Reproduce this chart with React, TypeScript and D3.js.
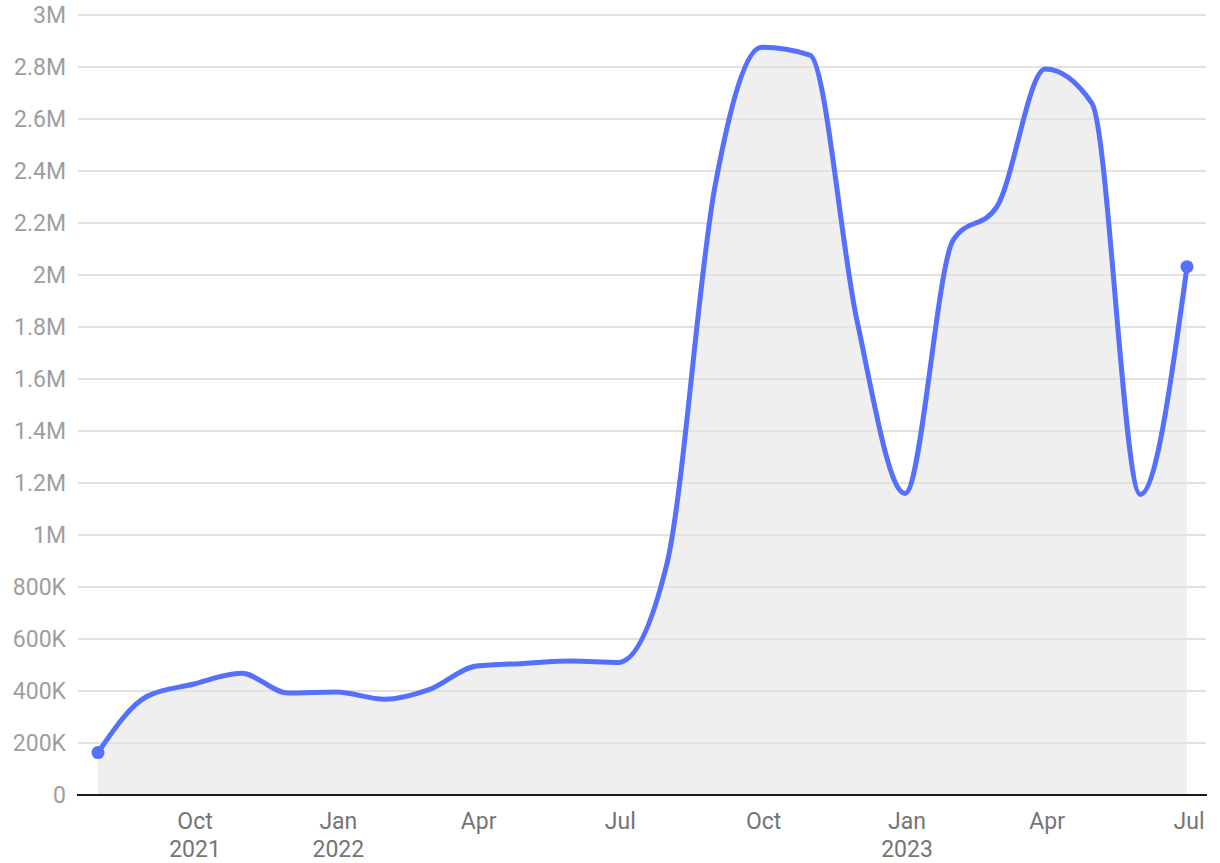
import React from "react";
import * as d3 from "d3";

const months: string[] = [
  "2021-08-01", "2021-09-01", "2021-10-01", "2021-11-01", "2021-12-01",
  "2022-01-01", "2022-02-01", "2022-03-01", "2022-04-01", "2022-05-01", "2022-06-01",
  "2022-07-01", "2022-08-01", "2022-09-01", "2022-10-01", "2022-11-01", "2022-12-01",
  "2023-01-01", "2023-02-01", "2023-03-01", "2023-04-01", "2023-05-01", "2023-06-01",
  "2023-07-01",
];
const values: number[] = [
  163000, 378000, 426000, 468000, 392000,
  396000, 368000, 404000, 496000, 506000, 515000,
  510000, 885000, 2340000, 2876000, 2846000, 1830000,
  1160000, 2135000, 2263000, 2792000, 2660000, 1156000,
  2032000,
];
const yTicks: number[] = [0, 200000, 400000, 600000, 800000, 1000000, 1200000, 1400000, 1600000, 1800000, 2000000, 2200000, 2400000, 2600000, 2800000, 3000000];
const xTickDates: string[] = ["2021-10-01", "2022-01-01", "2022-04-01", "2022-07-01", "2022-10-01", "2023-01-01", "2023-04-01", "2023-07-01"];
const xTickLabels: string[][] = [["Oct", "2021"], ["Jan", "2022"], ["Apr"], ["Jul"], ["Oct"], ["Jan", "2023"], ["Apr"], ["Jul"]];

const parse = d3.utcParse("%Y-%m-%d");

export default function App() {
  const W = 1220, H = 863;
  const data = months.map((m, i) => ({ d: parse(m) as Date, v: values[i] }));
  const x = d3.scaleUtc().domain(d3.extent(data, (p) => p.d) as [Date, Date]).range([98, 1187]);
  const y = d3.scaleLinear().domain([0, 3000000]).range([795, 15]);
  const line = d3.line<{ d: Date; v: number }>().x((p) => x(p.d)).y((p) => y(p.v)).curve(d3.curveMonotoneX);
  const area = d3.area<{ d: Date; v: number }>().x((p) => x(p.d)).y0(y(0)).y1((p) => y(p.v)).curve(d3.curveMonotoneX);
  const fmt = (v: number) => (v === 0 ? "0" : v >= 1000000 ? `${+(v / 1000000).toFixed(1)}M` : `${v / 1000}K`);
  const first = data[0], last = data[data.length - 1];
  return (
    <svg width={W} height={H} style={{ position: "absolute", left: 0, top: 0, background: "#fff" }} fontFamily="Roboto, sans-serif">
      <path d={area(data) || ""} fill="#efefef" />
      {yTicks.map((t) => (
        <g key={t}>
          {t > 0 && <line x1={78} x2={1206} y1={y(t)} y2={y(t)} stroke="#e2e2e2" strokeWidth={2} />}
          <text x={66} y={y(t)} dy="0.36em" textAnchor="end" fontSize={23} fill="#9e9e9e">{fmt(t)}</text>
        </g>
      ))}
      <path d={line(data) || ""} fill="none" stroke="#5470fc" strokeWidth={5} strokeLinejoin="round" strokeLinecap="round" />
      <circle cx={x(first.d)} cy={y(first.v)} r={6.5} fill="#5470fc" />
      <circle cx={x(last.d)} cy={y(last.v)} r={6.5} fill="#5470fc" />
      <line x1={77} x2={1207} y1={795} y2={795} stroke="#1a1a1a" strokeWidth={2} />
      {xTickDates.map((s, i) => {
        const px = x(parse(s) as Date);
        return (
          <text key={s} x={px + 2} y={829} textAnchor="middle" fontSize={23} fill="#757575">
            {xTickLabels[i].map((l, j) => (
              <tspan key={j} x={px + 2} y={829 + j * 28}>{l}</tspan>
            ))}
          </text>
        );
      })}
    </svg>
  );
}
